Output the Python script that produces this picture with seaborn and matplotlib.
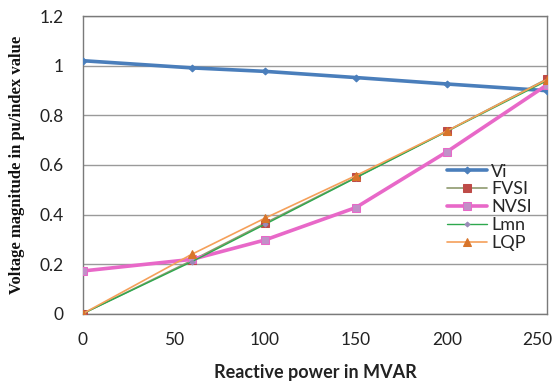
import matplotlib
matplotlib.use("Agg")
import matplotlib.pyplot as plt
import seaborn as sns
import pandas as pd

x_vals = [0, 60, 100, 150, 200, 255]
vi = [1.021, 0.992, 0.978, 0.953, 0.927, 0.900]
fvsi = [0.0, 0.215, 0.365, 0.550, 0.737, 0.947]
nvsi = [0.172, 0.219, 0.297, 0.428, 0.653, 0.923]
lmn = [0.0, 0.210, 0.360, 0.548, 0.735, 0.940]
lqp = [0.0, 0.240, 0.385, 0.557, 0.737, 0.945]
x_ticks = [0, 50, 100, 150, 200, 250]
y_ticks = [0, 0.2, 0.4, 0.6, 0.8, 1.0, 1.2]
y_ticklabels = ["0", "0.2", "0.4", "0.6", "0.8", "1", "1.2"]

sns.set_style("white")
plt.rcParams['font.family'] = ['Lato', 'DejaVu Sans']

fig = plt.figure(figsize=(5.58, 3.81), dpi=100)
ax = fig.add_axes([0.1487, 0.177, 0.8313, 0.78])

styles = {
    "Vi":   dict(data=vi,   color="#4A7EBB", lw=2.6, marker="D", ms=3.5, mfc="#4A7EBB", mec="#4A7EBB"),
    "FVSI": dict(data=fvsi, color="#8F9A6E", lw=1.2, marker="s", ms=6, mfc="#BE4B48", mec="#BE4B48"),
    "NVSI": dict(data=nvsi, color="#E868C8", lw=2.6, marker="s", ms=6, mfc="#C290C8", mec="#E868C8"),
    "Lmn":  dict(data=lmn,  color="#2EA84E", lw=1.0, marker="D", ms=2.5, mfc="#9A8AB8", mec="#9A8AB8"),
    "LQP":  dict(data=lqp,  color="#F5A05A", lw=1.2, marker="^", ms=6, mfc="#D8742A", mec="#D8742A"),
}
for name, st in styles.items():
    df = pd.DataFrame({"x": x_vals, "y": st["data"]})
    sns.lineplot(data=df, x="x", y="y", ax=ax, color=st["color"], linewidth=st["lw"],
                 marker=st["marker"], markersize=st["ms"], markerfacecolor=st["mfc"],
                 markeredgecolor=st["mec"], label=name, zorder=3)

ax.set_xlim(0, 255)
ax.set_ylim(0, 1.2)
ax.set_xticks(x_ticks)
ax.set_yticks(y_ticks)
ax.set_yticklabels(y_ticklabels)
ax.tick_params(axis="both", labelsize=12.5, colors="#222222", length=0)
ax.tick_params(axis="x", pad=13)
ax.tick_params(axis="y", pad=14)
ax.grid(axis="y", color="#9a9a9a", linewidth=1.0)
ax.grid(axis="x", visible=False)
for s in ax.spines.values():
    s.set_color("#7a7a7a")
    s.set_linewidth(1.0)

ax.set_xlabel("Reactive power in MVAR", fontsize=13, fontweight="bold", color="#222222", labelpad=12)
ax.set_ylabel("Voltage magnitude in pu/index value", fontsize=12, fontweight="bold",
              family=["Liberation Serif"], color="#111111", labelpad=10)

leg = ax.legend(loc="upper left", bbox_to_anchor=(0.765, 0.535), frameon=False, fontsize=13,
                handlelength=2.2, handletextpad=0.25, labelspacing=0.1, borderpad=0)

fig.savefig("out.png", dpi=100)
